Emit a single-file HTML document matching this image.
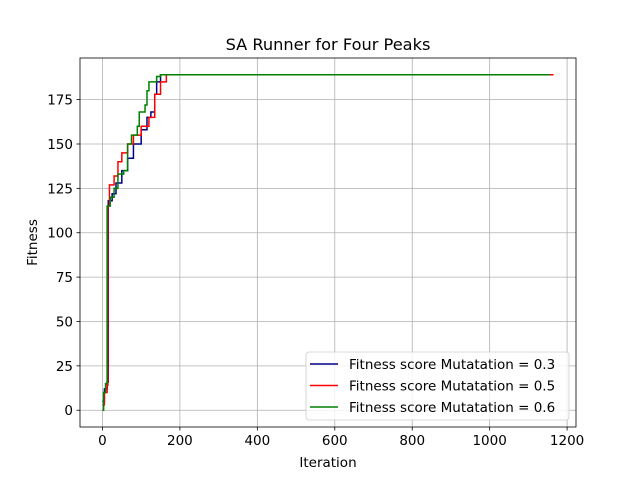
<!DOCTYPE html>
<html><head><meta charset="utf-8"><style>
body{margin:0;background:#fff;font-family:"Liberation Sans","DejaVu Sans",sans-serif;}
svg text{font-family:"DejaVu Sans","Liberation Sans",sans-serif;}
</style></head><body>
<svg id="chart" width="640" height="480" xmlns="http://www.w3.org/2000/svg">
<rect width="640" height="480" fill="#fff"/>
<g id="grid"></g><g id="series"></g><g id="axes"></g>
</svg>
<script>
const xTicks=[0,200,400,600,800,1000,1200];
const yTicks=[0,25,50,75,100,125,150,175];
const blueX=[0,5,12,15,25,35,50,65,80,100,115,125,135,140,150,1160];
const blueY=[5,12,16,118,122,128,135,142,150,158,165,168,178,185,189,189];
const redX=[0,5,12,14,18,30,40,50,65,80,100,120,135,150,165,1165];
const redY=[3,10,14,115,127,132,140,145,150,155,160,165,178,185,189,189];
const greenX=[0,3,8,12,20,30,40,55,65,75,90,95,110,115,120,140,150,1155];
const greenY=[0,10,15,115,120,125,133,135,150,155,160,168,172,180,185,188,189,189];
const labels=["Fitness score Mutatation = 0.3","Fitness score Mutatation = 0.5","Fitness score Mutatation = 0.6"];
const L=80,R=576,T=58,B=427,xmin=-58,xmax=1223,ymin=-9.45,ymax=198.45;
const sx=v=>L+(v-xmin)/(xmax-xmin)*(R-L);
const sy=v=>B-(v-ymin)/(ymax-ymin)*(B-T);
const NS="http://www.w3.org/2000/svg";
function mk(p,t,a){const e=document.createElementNS(NS,t);for(const k in a)e.setAttribute(k,a[k]);p.appendChild(e);return e;}
const grid=document.getElementById('grid'),axes=document.getElementById('axes'),ser=document.getElementById('series');
xTicks.forEach(t=>{const x=sx(t);
const g=mk(grid,'line',{x1:x,x2:x,y1:T,y2:B,stroke:'#b0b0b0','stroke-width':0.8});


mk(axes,'line',{x1:x,x2:x,y1:B,y2:B+3.5,stroke:'#000','stroke-width':0.8});
const tx=mk(axes,'text',{x:x,y:B+18,'font-size':13.5,'text-anchor':'middle'});tx.textContent=t;

});
yTicks.forEach(t=>{const y=sy(t);
const g=mk(grid,'line',{x1:L,x2:R,y1:y,y2:y,stroke:'#b0b0b0','stroke-width':0.8});


mk(axes,'line',{x1:L-3.5,x2:L,y1:y,y2:y,stroke:'#000','stroke-width':0.8});
const tx=mk(axes,'text',{x:L-7,y:y+5,'font-size':13.5,'text-anchor':'end'});tx.textContent=t;

});
const fr=mk(axes,'rect',{x:L,y:T,width:R-L,height:B-T,fill:'none',stroke:'#000','stroke-width':0.8});


const ti=mk(axes,'text',{x:(L+R)/2,y:50,'font-size':16.2,'text-anchor':'middle'});ti.textContent='SA Runner for Four Peaks';


const xl=mk(axes,'text',{x:(L+R)/2,y:467,'font-size':13.5,'text-anchor':'middle'});xl.textContent='Iteration';


const yl=mk(axes,'text',{x:37,y:(T+B)/2,'font-size':13.5,'text-anchor':'middle',transform:`rotate(-90 37 ${(T+B)/2})`});yl.textContent='Fitness';


function stepPath(xs,ys){let d=`M${sx(xs[0])},${sy(ys[0])}`;for(let i=1;i<xs.length;i++){d+=`L${sx(xs[i])},${sy(ys[i-1])}L${sx(xs[i])},${sy(ys[i])}`;}return d;}
const S=[[blueX,blueY,'#00008b','series-mutation-0-3'],[redX,redY,'#ff0000','series-mutation-0-5'],[greenX,greenY,'#008000','series-mutation-0-6']];
S.forEach(s=>{const p=mk(ser,'path',{d:stepPath(s[0],s[1]),fill:'none',stroke:s[2],'stroke-width':1.5});

});
const lg=mk(axes,'g',{});


mk(lg,'rect',{x:306,y:352,width:263,height:68,rx:3,fill:'#fff','fill-opacity':0.8,stroke:'#ccc','stroke-width':0.8});
labels.forEach((lb,i)=>{const y=364+i*21.5;
mk(lg,'line',{x1:310,x2:338,y1:y,y2:y,stroke:S[i][2],'stroke-width':1.5});
const t=mk(lg,'text',{x:349,y:y+5,'font-size':13.5});t.textContent=lb;

});
</script>
</body></html>
